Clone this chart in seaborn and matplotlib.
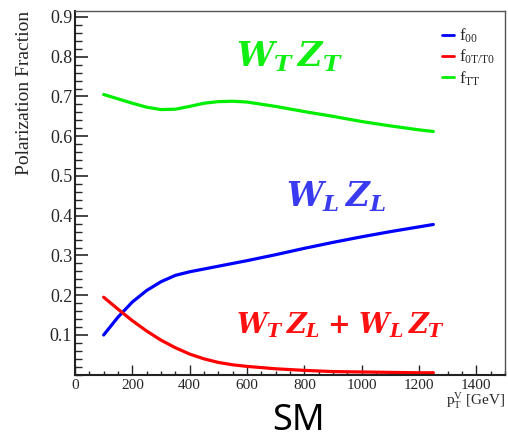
import numpy as np
import pandas as pd
import matplotlib
matplotlib.use("Agg")
import matplotlib.pyplot as plt
import seaborn as sns
from matplotlib.ticker import MultipleLocator

pt = [100, 150, 200, 250, 300, 350, 400, 450, 500, 550, 600, 700, 800, 900, 1000, 1100, 1200, 1250]
f00 = [0.100, 0.145, 0.183, 0.212, 0.234, 0.250, 0.259, 0.266, 0.273, 0.280, 0.287, 0.302, 0.318, 0.333, 0.347, 0.360, 0.372, 0.378]
f0T = [0.195, 0.165, 0.136, 0.110, 0.087, 0.068, 0.052, 0.040, 0.031, 0.025, 0.021, 0.015, 0.011, 0.008, 0.007, 0.006, 0.005, 0.005]
fTT = [0.705, 0.694, 0.683, 0.673, 0.667, 0.668, 0.675, 0.683, 0.687, 0.688, 0.686, 0.675, 0.662, 0.650, 0.637, 0.626, 0.616, 0.612]
series_names = [r"$\mathrm{f}_{\mathrm{00}}$", r"$\mathrm{f}_{\mathrm{0T/T0}}$", r"$\mathrm{f}_{\mathrm{TT}}$"]
xticks = [0, 200, 400, 600, 800, 1000, 1200, 1400]
yticks = [0.1, 0.2, 0.3, 0.4, 0.5, 0.6, 0.7, 0.8, 0.9]

SERIF = ['Liberation Serif', 'DejaVu Serif']
sns.set_style("ticks")
plt.rcParams['font.family'] = 'serif'
plt.rcParams['font.serif'] = SERIF
plt.rcParams['mathtext.fontset'] = 'custom'
plt.rcParams['mathtext.rm'] = 'Liberation Serif'
plt.rcParams['mathtext.it'] = 'DejaVu Serif:italic:bold'
plt.rcParams['mathtext.bf'] = 'DejaVu Serif:bold'

df = pd.DataFrame({
    "pt": pt * 3,
    "frac": f00 + f0T + fTT,
    "series": [series_names[0]] * len(pt) + [series_names[1]] * len(pt) + [series_names[2]] * len(pt),
})
palette = {series_names[0]: "#0000ff", series_names[1]: "#ff0000", series_names[2]: "#00ee00"}

fig = plt.figure(figsize=(5.08, 4.44), dpi=100)
ax = fig.add_axes([75/508, 1-374.75/444, 430/508, (374.75-11)/444])
sns.lineplot(data=df, x="pt", y="frac", hue="series", palette=palette, ax=ax,
             linewidth=2.3, legend=True)

ax.set_xlim(0, 1500)
ax.set_ylim(0.0, 0.915)
ax.set_xticks(xticks)
ax.set_yticks(yticks)
ax.set_yticklabels([f"{v:.1f}" for v in yticks], fontsize=13, family=SERIF)
ax.set_xticklabels([str(v) for v in xticks], fontsize=11, family=SERIF)
ax.xaxis.set_minor_locator(MultipleLocator(50))
ax.yaxis.set_minor_locator(MultipleLocator(0.02))
ax.tick_params(axis='y', which='major', direction='in', length=9, width=1.2, pad=2)
ax.tick_params(axis='y', which='minor', direction='in', length=5, width=1.0)
ax.tick_params(axis='x', which='major', direction='in', length=7, width=1.0, pad=3)
ax.tick_params(axis='x', which='minor', direction='in', length=3, width=1.0)
for s in ['left', 'bottom']:
    ax.spines[s].set_linewidth(1.5)
    ax.spines[s].set_color('#222222')
for s in ['top', 'right']:
    ax.spines[s].set_linewidth(1.0)
    ax.spines[s].set_color('#555555')

ax.set_xlabel("")
ax.set_ylabel("Polarization Fraction", fontsize=14, loc='top', labelpad=12, family=SERIF)
fig.text(505/508, 1-401/444, r"$\mathrm{p}_{\mathrm{T}}^{\mathrm{V}}$ [GeV]", ha='right', va='center',
         fontsize=11, family=SERIF)

leg = ax.legend(loc='upper right', bbox_to_anchor=(1.0, 0.985), frameon=False, fontsize=12,
                handlelength=0.7, handletextpad=0.3, labelspacing=0.15, borderaxespad=0.2)
for line in leg.get_lines():
    line.set_linewidth(2.0)

ax.text(748, 0.80, r"$W_{T}\,Z_{T}$", color="#11ee11", fontsize=24, ha='center', va='center')
ax.text(911, 0.447, r"$W_{L}\,Z_{L}$", color="#3a3af0", fontsize=23.5, ha='center', va='center')
ax.text(928, 0.125, r"$W_{T}\,Z_{L}\;\mathbf{+}\;W_{L}\,Z_{T}$", color="#ff1010", fontsize=19.5,
        ha='center', va='center')

fig.text(298/508, 1-421/444, "SM", fontsize=26, ha='center', va='center', color='black',
         family=['Noto Sans', 'DejaVu Sans'])

fig.savefig("out.png", dpi=100)
